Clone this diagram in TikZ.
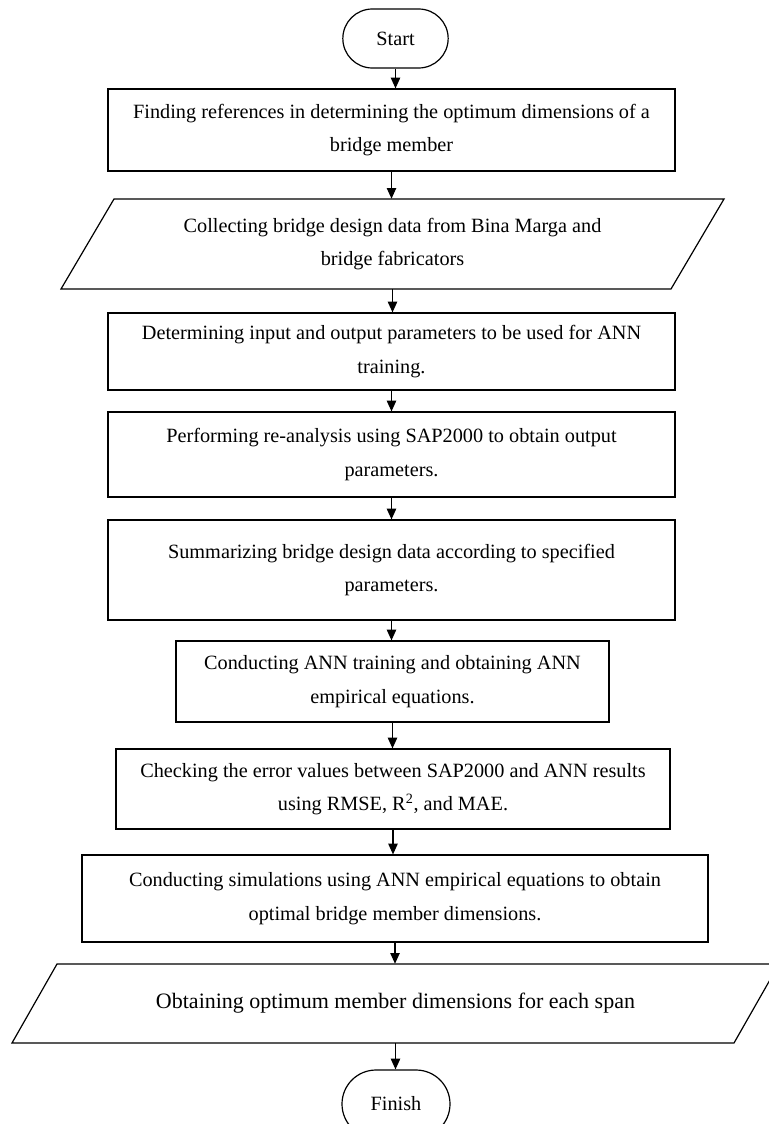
\documentclass[tikz,border=0pt]{standalone}
\usepackage{fontspec}
\setmainfont{Liberation Serif}
\usetikzlibrary{shapes.misc,arrows.meta}
\begin{document}
\begin{tikzpicture}[x=0.75pt,y=-0.75pt,
  every node/.style={font=\fontsize{15.2}{25}\selectfont, align=center, inner sep=0pt},
  procbox/.style={draw, line width=0.9pt, rectangle},
  termbox/.style={draw, line width=0.9pt, rounded rectangle, minimum width=79pt, minimum height=44.25pt},
  parabox/.style={rectangle, draw=none},
  paraline/.style={draw, line width=0.9pt, line join=miter},
  arr/.style={line width=0.9pt, -{Triangle[length=8pt,width=7pt]}}]
\useasboundingbox (0,0) rectangle (768,1124);

\node[termbox] (start) at (395.5,38.5) {Start};

\node[procbox, minimum width=425.25pt, minimum height=61.5pt] (b1) at (391.5,130)
  {Finding references in determining the optimum dimensions of a\\ bridge member};

\draw[paraline] (114,199) -- (724,199) -- (671,289) -- (61,289) -- cycle;
\node[parabox, minimum width=457pt, minimum height=67.5pt] (p1) at (392.5,244)
  {Collecting bridge design data from Bina Marga and\\ bridge fabricators};

\node[procbox, minimum width=425.25pt, minimum height=57.75pt] (b3) at (391.5,351.5)
  {Determining input and output parameters to be used for ANN\\ training.};

\node[procbox, minimum width=425.25pt, minimum height=63.75pt] (b4) at (391.5,454.5)
  {Performing re-analysis using SAP2000 to obtain output\\ parameters.};

\node[procbox, minimum width=425.25pt, minimum height=75pt] (b5) at (391.5,570)
  {Summarizing bridge design data according to specified\\ parameters.};

\node[procbox, minimum width=324.75pt, minimum height=60.75pt] (b6) at (392.5,681.5)
  {Conducting ANN training and obtaining ANN\\ empirical equations.};

\node[procbox, minimum width=415.5pt, minimum height=60pt] (b7) at (393,789)
  {Checking the error values between SAP2000 and ANN results\\ using RMSE, R\textsuperscript{2}, and MAE.};

\node[procbox, minimum width=469.5pt, minimum height=65.25pt] (b8) at (395,898.5)
  {Conducting simulations using ANN empirical equations to obtain\\ optimal bridge member dimensions.};

\draw[paraline] (57,964) -- (779,964) -- (734,1043) -- (12,1043) -- cycle;
\node[parabox, minimum width=541pt, minimum height=59.25pt, font=\fontsize{16.5}{20}\selectfont] (p2) at (395.5,1003.5)
  {Obtaining optimum member dimensions for each span};

\node[termbox, minimum width=81pt, minimum height=51pt] (finish) at (396,1104) {Finish};

\draw[arr] (start.south) -- (start.south |- b1.north);
\draw[arr] (b1.south) -- (b1.south |- p1.north);
\draw[arr] (p1.south) -- (p1.south |- b3.north);
\draw[arr] (b3.south) -- (b3.south |- b4.north);
\draw[arr] (b4.south) -- (b4.south |- b5.north);
\draw[arr] (b5.south) -- (b5.south |- b6.north);
\draw[arr] (b6.south) -- (b6.south |- b7.north);
\draw[arr] (b7.south) -- (b7.south |- b8.north);
\draw[arr] (b8.south) -- (b8.south |- p2.north);
\draw[arr] (p2.south) -- (p2.south |- finish.north);
\end{tikzpicture}
\end{document}
